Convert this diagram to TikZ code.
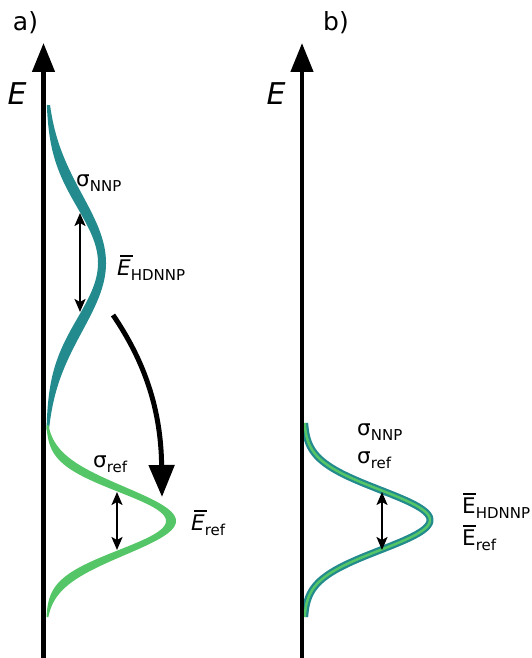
\documentclass[tikz,border=0pt]{standalone}
\usepackage{fontspec}
\setmainfont{DejaVu Sans}
\usetikzlibrary{arrows.meta}
\definecolor{nnp}{RGB}{35,138,141}
\definecolor{reference}{RGB}{85,198,103}
% lowered index and a bar over a letter
\newcommand\idx[1]{\raisebox{-0.25em}{\fontsize{15}{15}\selectfont #1}}
\newcommand\barred[2]{\leavevmode\rlap{\hspace{#1}\rule[0.86em]{0.58em}{0.08em}}{#2}}

\begin{document}
\begin{tikzpicture}[
    x=1pt, y=-1pt,
    declare function={bell(\u,\m,\w)=exp(-0.5*((\u-\m)/\w)^2);},
    energyaxis/.style={line width=4.5pt, -{Triangle[length=29pt, width=22pt]}},
    spread/.style={line width=2pt,
        {Stealth[length=13pt, width=11pt, inset=3pt]}-{Stealth[length=13pt, width=11pt, inset=3pt]}},
    bigarrow/.style={line width=5pt, -{Triangle[length=32pt, width=25pt]}},
    tag/.style={font=\fontsize{21.5}{21.5}\selectfont, inner sep=0pt},
    panel/.style={tag, font=\fontsize{25}{25}\selectfont},
    axislabel/.style={tag, font=\fontsize{30}{30}\selectfont\itshape},
]
    \useasboundingbox (0,0) rectangle (531,658);

    %% a) the two distributions, drawn as ribbons between two bells
    \fill[nnp] plot[domain=105:430, samples=120] ({46+52*bell(\x,263,55)}, \x)
        -- plot[domain=430:105, samples=120] ({46+60*bell(\x,263,68)}, \x) -- cycle;
    \fill[reference] plot[domain=425:617, samples=120] ({46+120*bell(\x,521,29)}, \x)
        -- plot[domain=617:425, samples=120] ({46+130*bell(\x,521,34)}, \x) -- cycle;

    \coordinate (a-foot) at (43.5,658);
    \coordinate (a-tip) at (43.5,43);
    \draw[energyaxis] (a-foot) -- (a-tip);
    \node[panel] (panel-a) at (25.5,23) {a)};
    \node[axislabel] (energy-a) at (17,94) {E};

    %% widths of both bells
    \coordinate (nnp-up) at (80,213);
    \coordinate (nnp-down) at (80,312);
    \draw[spread] (nnp-up) -- (nnp-down);
    \coordinate (ref-up) at (117,492);
    \coordinate (ref-down) at (117,550);
    \draw[spread] (ref-up) -- (ref-down);

    \node[tag, anchor=base west] (sigma-nnp-a) at (76,186) {σ\idx{NNP}};
    \node[tag, anchor=base west] (mean-nnp-a) at (117,275)
        {\barred{0.14em}{\itshape E}\idx{HDNNP}};
    \node[tag, anchor=base west] (sigma-ref-a) at (93,467) {σ\idx{ref}};
    \node[tag, anchor=base west] (mean-ref-a) at (191,530)
        {\barred{0.14em}{\itshape E}\idx{ref}};

    %% the NNP distribution is moved onto the reference one
    \coordinate (shift-from) at (113,315);
    \coordinate (shift-to) at (162,497);
    \draw[bigarrow] (shift-from) .. controls (145,362) and (161,410) .. (shift-to);

    %% b) both distributions on top of each other
    \draw[nnp, line width=7pt] plot[domain=423:617, samples=120]
        ({304+126*bell(\x,520,30)}, \x);
    \draw[reference, line width=2.5pt] plot[domain=423:617, samples=120]
        ({304+126*bell(\x,520,30)}, \x);

    \coordinate (b-foot) at (302,658);
    \coordinate (b-tip) at (302,43);
    \draw[energyaxis] (b-foot) -- (b-tip);
    \node[panel] (panel-b) at (336,23) {b)};
    \node[axislabel] (energy-b) at (276,94) {E};

    \coordinate (both-up) at (382,492);
    \coordinate (both-down) at (382,550);
    \draw[spread] (both-up) -- (both-down);

    \node[tag, anchor=base west] (sigma-nnp-b) at (357,435) {σ\idx{NNP}};
    \node[tag, anchor=base west] (sigma-ref-b) at (357,463) {σ\idx{ref}};
    \node[tag, anchor=base west] (mean-nnp-b) at (462,513) {\barred{0.06em}{E}\idx{HDNNP}};
    \node[tag, anchor=base west] (mean-ref-b) at (462,545) {\barred{0.06em}{E}\idx{ref}};
\end{tikzpicture}
\end{document}
